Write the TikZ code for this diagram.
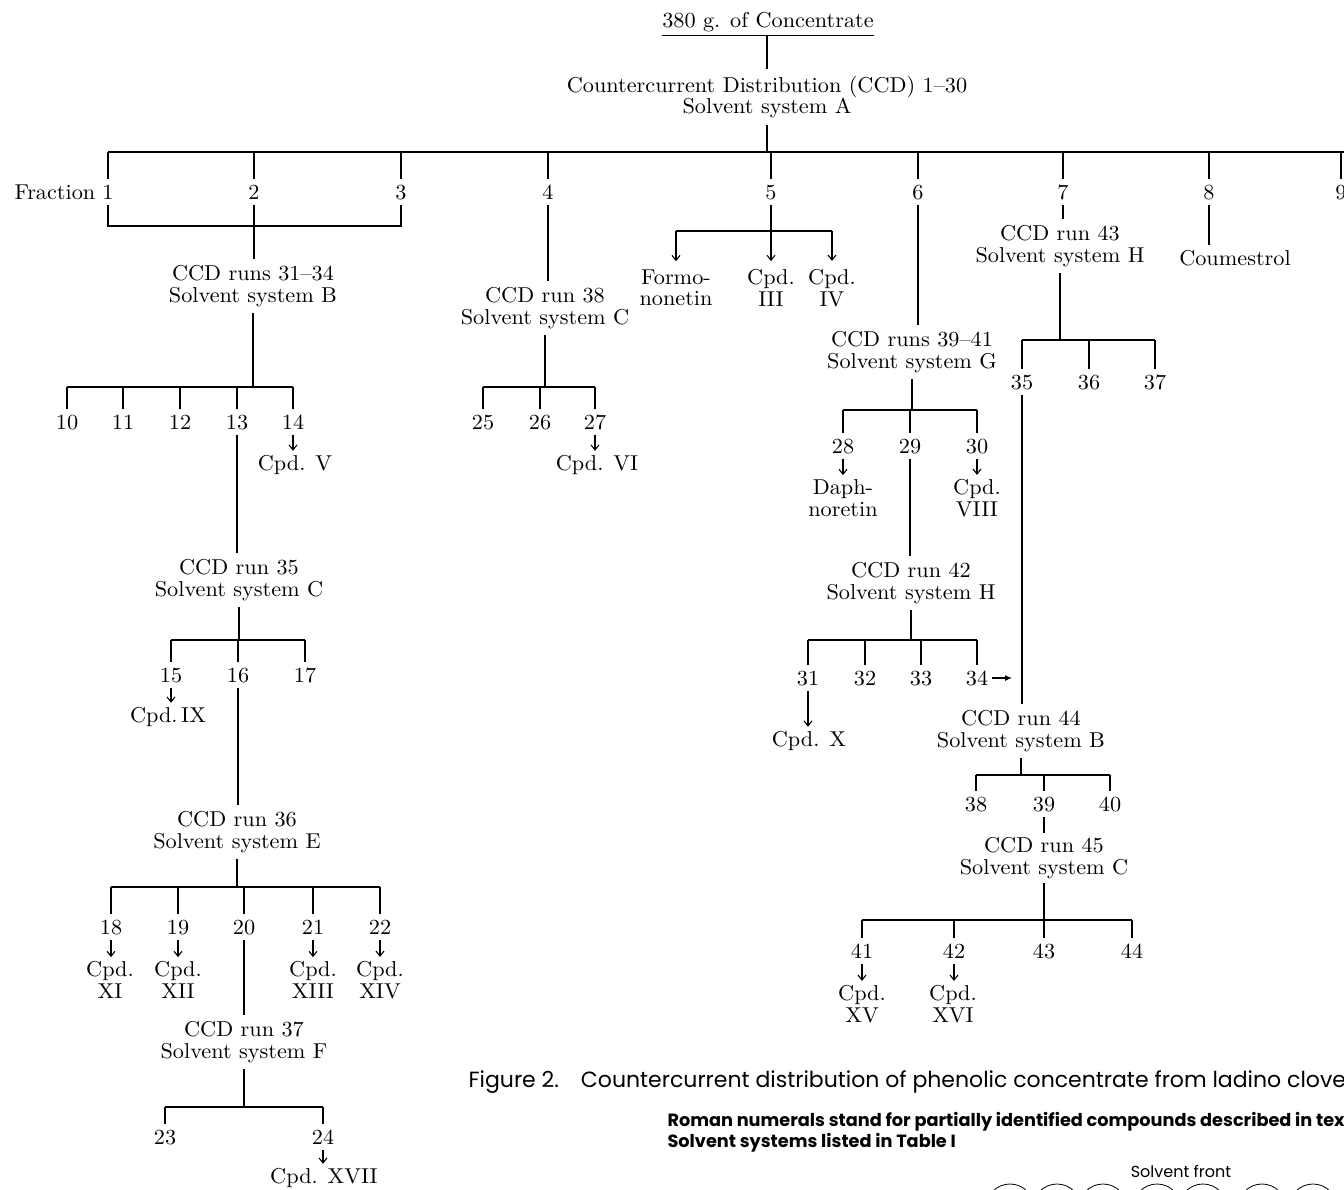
\documentclass[tikz,border=0pt]{standalone}
\usepackage{fontspec}
\setmainfont{lmroman10-regular.otf}[FakeStretch=1.035]
\newfontfamily\capfont{Poppins}
\usetikzlibrary{arrows.meta}

\tikzset{
    lbl/.style={inner xsep=0pt, inner ysep=5pt, align=center},
    num/.style={lbl, text height=14pt, text depth=0pt},
    cpd/.style={-{Straight Barb[length=5pt,width=8pt]}}
}

\begin{document}
\begin{tikzpicture}[x=1pt, y=-1pt, line width=1.1pt,
    font=\fontsize{21.5}{21.5}\selectfont]

\useasboundingbox (0,0) rectangle (1344,1189);
\clip (0,0) rectangle (1344,1189);

% Bar levels
\coordinate (barA) at (0,152);
\coordinate (barBox) at (0,226);
\coordinate (bar5) at (0,231);
\coordinate (bar2) at (0,387);
\coordinate (bar4) at (0,387);
\coordinate (bar7) at (0,340);
\coordinate (bar6) at (0,410);
\coordinate (bar13) at (0,640);
\coordinate (bar29) at (0,640);
\coordinate (bar35) at (0,775);
\coordinate (bar16) at (0,887);
\coordinate (bar39) at (0,920);
\coordinate (bar20) at (0,1107);

% Top
\node[lbl, inner ysep=3pt] (conc) at (768,22) {380 g. of Concentrate};
\draw (conc.south west) -- (conc.south east);
\node[lbl, inner ysep=6pt] (ccdA) at (767,97) {Countercurrent Distribution (CCD) 1--30\\Solvent system A};
\draw (conc.south -| ccdA.north) -- (ccdA.north);
\draw (ccdA.south) -- (ccdA.south |- barA);

% Fractions
\node[num] (f1) at (108,192) {1};
\node[num] (f2) at (254,192) {2};
\node[num] (f3) at (401,192) {3};
\node[num] (f4) at (548,192) {4};
\node[num] (f5) at (771,192) {5};
\node[num] (f6) at (918,192) {6};
\node[num] (f7) at (1063,192) {7};
\node[num] (f8) at (1209,192) {8};
\node[num] (f9) at (1341,192) {9};
\node[lbl, anchor=base east] (fraclbl) at ([xshift=-6pt]f1.base west) {Fraction};
\draw (f1.north |- barA) -- (1344,152);
\foreach \i in {1,...,9}
    \draw (f\i.north |- barA) -- (f\i.north);
\draw (f1.south) -- (f1.south |- barBox) -- (f3.south |- barBox) -- (f3.south);

% Fraction 2
\node[lbl, inner ysep=6pt] (ccd31) at (253,286) {CCD runs 31--34\\Solvent system B};
\draw (f2.south) -- (f2.south |- ccd31.north);
\draw (ccd31.south) -- (ccd31.south |- bar2);
\node[num] (n10) at (67,422) {10};
\node[num] (n11) at (123,422) {11};
\node[num] (n12) at (180,422) {12};
\node[num] (n13) at (237,422) {13};
\node[num] (n14) at (293,422) {14};
\draw (n10.north |- bar2) -- (n14.north |- bar2);
\foreach \i in {10,...,14}
    \draw (n\i.north |- bar2) -- (n\i.north);
\node[lbl, inner ysep=4pt] (cpdV) at (295,465) {Cpd. V};
\draw[cpd] (n14.south) -- (n14.south |- cpdV.north);

\node[lbl, inner ysep=6pt] (ccd35) at (239,580) {CCD run 35\\Solvent system C};
\draw (n13.south) -- (n13.south |- ccd35.north);
\draw (ccd35.south) -- (ccd35.south |- bar13);
\node[num] (n15) at (171,675) {15};
\node[num] (n16) at (238,675) {16};
\node[num] (n17) at (305,675) {17};
\draw (n15.north |- bar13) -- (n17.north |- bar13);
\foreach \i in {15,16,17}
    \draw (n\i.north |- bar13) -- (n\i.north);
\node[lbl, inner ysep=4pt] (cpdIX) at (168,717) {Cpd.\,IX};
\draw[cpd] (n15.south) -- (n15.south |- cpdIX.north);

\node[lbl, inner ysep=6pt] (ccd36) at (237,832) {CCD run 36\\Solvent system E};
\draw (n16.south) -- (n16.south |- ccd36.north);
\draw (ccd36.south) -- (ccd36.south |- bar16);
\node[num] (n18) at (111,927) {18};
\node[num] (n19) at (178,927) {19};
\node[num] (n20) at (244,927) {20};
\node[num] (n21) at (313,927) {21};
\node[num] (n22) at (380,927) {22};
\draw (n18.north |- bar16) -- (n22.north |- bar16);
\foreach \i in {18,...,22}
    \draw (n\i.north |- bar16) -- (n\i.north);
\node[lbl, inner ysep=4pt] (cpdXI) at (110,980) {Cpd.\\XI};
\node[lbl, inner ysep=4pt] (cpdXII) at (178,980) {Cpd.\\XII};
\node[lbl, inner ysep=4pt] (cpdXIII) at (313,980) {Cpd.\\XIII};
\node[lbl, inner ysep=4pt] (cpdXIV) at (380,980) {Cpd.\\XIV};
\draw[cpd] (n18.south) -- (n18.south |- cpdXI.north);
\draw[cpd] (n19.south) -- (n19.south |- cpdXII.north);
\draw[cpd] (n21.south) -- (n21.south |- cpdXIII.north);
\draw[cpd] (n22.south) -- (n22.south |- cpdXIV.north);

\node[lbl, inner ysep=6pt] (ccd37) at (244,1042) {CCD run 37\\Solvent system F};
\draw (n20.south) -- (n20.south |- ccd37.north);
\draw (ccd37.south) -- (ccd37.south |- bar20);
\node[num] (n23) at (165,1137) {23};
\node[num] (n24) at (323,1137) {24};
\draw (n23.north |- bar20) -- (n24.north |- bar20);
\foreach \i in {23,24}
    \draw (n\i.north |- bar20) -- (n\i.north);
\node[lbl, inner ysep=4pt] (cpdXVII) at (324,1178) {Cpd. XVII};
\draw[cpd] (n24.south) -- (n24.south |- cpdXVII.north);

% Fraction 4
\node[lbl, inner ysep=6pt] (ccd38) at (545,308) {CCD run 38\\Solvent system C};
\draw (f4.south) -- (f4.south |- ccd38.north);
\draw (ccd38.south) -- (ccd38.south |- bar4);
\node[num] (n25) at (483,422) {25};
\node[num] (n26) at (540,422) {26};
\node[num] (n27) at (595,422) {27};
\draw (n25.north |- bar4) -- (n27.north |- bar4);
\foreach \i in {25,26,27}
    \draw (n\i.north |- bar4) -- (n\i.north);
\node[lbl, inner ysep=4pt] (cpdVI) at (597,465) {Cpd. VI};
\draw[cpd] (n27.south) -- (n27.south |- cpdVI.north);

% Fraction 5
\node[lbl, inner ysep=8pt] (formo) at (676,288) {Formo-\\nonetin};
\node[lbl, inner ysep=8pt] (cpdIII) at (771,288) {Cpd.\\III};
\node[lbl, inner ysep=8pt] (cpdIV) at (832,288) {Cpd.\\IV};
\draw (f5.south) -- (f5.south |- bar5);
\draw (formo.north |- bar5) -- (cpdIV.north |- bar5);
\draw[cpd] (formo.north |- bar5) -- (formo.north);
\draw[cpd] (cpdIII.north |- bar5) -- (cpdIII.north);
\draw[cpd] (cpdIV.north |- bar5) -- (cpdIV.north);

% Fraction 6
\node[lbl, inner ysep=6pt] (ccd39) at (912,352) {CCD runs 39--41\\Solvent system G};
\draw (f6.south) -- (f6.south |- ccd39.north);
\draw (ccd39.south) -- (ccd39.south |- bar6);
\node[num] (n28) at (843,446) {28};
\node[num] (n29) at (910,446) {29};
\node[num] (n30) at (977,446) {30};
\draw (n28.north |- bar6) -- (n30.north |- bar6);
\foreach \i in {28,29,30}
    \draw (n\i.north |- bar6) -- (n\i.north);
\node[lbl, inner ysep=4pt] (daph) at (843,498) {Daph-\\noretin};
\node[lbl, inner ysep=4pt] (cpdVIII) at (977,498) {Cpd.\\VIII};
\draw[cpd] (n28.south) -- (n28.south |- daph.north);
\draw[cpd] (n30.south) -- (n30.south |- cpdVIII.north);

\node[lbl, inner ysep=6pt] (ccd42) at (911,583) {CCD run 42\\Solvent system H};
\draw (n29.south) -- (n29.south |- ccd42.north);
\draw (ccd42.south) -- (ccd42.south |- bar29);
\node[num] (n31) at (808,678) {31};
\node[num] (n32) at (865,678) {32};
\node[num] (n33) at (921,678) {33};
\node[num] (n34) at (977,678) {34};
\draw (n31.north |- bar29) -- (n34.north |- bar29);
\foreach \i in {31,...,34}
    \draw (n\i.north |- bar29) -- (n\i.north);
\node[lbl, inner ysep=4pt] (cpdX) at (809,741) {Cpd. X};
\draw[cpd] (n31.south) -- (n31.south |- cpdX.north);
\coordinate (n34tip) at (1012,678);
\draw[-{Latex[length=7pt,width=6pt]}] ([xshift=3pt]n34.east) -- (n34tip);

% Fraction 7
\node[lbl, inner ysep=6pt] (ccd43) at (1060,246) {CCD run 43\\Solvent system H};
\draw (f7.south) -- (f7.south |- ccd43.north);
\draw (ccd43.south) -- (ccd43.south |- bar7);
\node[num] (n35) at (1022,382) {35};
\node[num] (n36) at (1089,382) {36};
\node[num] (n37) at (1155,382) {37};
\draw (n35.north |- bar7) -- (n37.north |- bar7);
\foreach \i in {35,36,37}
    \draw (n\i.north |- bar7) -- (n\i.north);

\node[lbl, inner ysep=6pt] (ccd44) at (1021,731) {CCD run 44\\Solvent system B};
\draw (n35.south) -- (n35.south |- ccd44.north);
\draw (ccd44.south) -- (ccd44.south |- bar35);
\node[num] (n38) at (976,804) {38};
\node[num] (n39) at (1044,804) {39};
\node[num] (n40) at (1110,804) {40};
\draw (n38.north |- bar35) -- (n40.north |- bar35);
\foreach \i in {38,39,40}
    \draw (n\i.north |- bar35) -- (n\i.north);

\node[lbl, inner ysep=4pt] (ccd45) at (1044,858) {CCD run 45\\Solvent system C};
\draw (n39.south) -- (n39.south |- ccd45.north);
\draw (ccd45.south) -- (ccd45.south |- bar39);
\node[num] (n41) at (862,951) {41};
\node[num] (n42) at (954,951) {42};
\node[num] (n43) at (1044,951) {43};
\node[num] (n44) at (1132,951) {44};
\draw (n41.north |- bar39) -- (n44.north |- bar39);
\foreach \i in {41,...,44}
    \draw (n\i.north |- bar39) -- (n\i.north);
\node[lbl, inner ysep=4pt] (cpdXV) at (862,1004) {Cpd.\\XV};
\node[lbl, inner ysep=4pt] (cpdXVI) at (953,1004) {Cpd.\\XVI};
\draw[cpd] (n41.south) -- (n41.south |- cpdXV.north);
\draw[cpd] (n42.south) -- (n42.south |- cpdXVI.north);

% Fraction 8
\node[lbl] (coum) at (1235,258) {Coumestrol};
\draw (f8.south) -- (f8.south |- coum.north);

% Caption
\node[anchor=west, inner sep=0pt, font=\capfont\fontsize{22}{22}\selectfont] (figcap) at (468,1082)
    {Figure 2.\quad Countercurrent distribution of phenolic concentrate from ladino clove};
\node[anchor=west, inner sep=0pt, font=\capfont\bfseries\fontsize{17.7}{17.7}\selectfont] (note1) at (667,1122)
    {Roman numerals stand for partially identified compounds described in tex};
\node[anchor=west, inner sep=0pt, font=\capfont\bfseries\fontsize{17.7}{17.7}\selectfont] (note2) at (667,1143)
    {Solvent systems listed in Table I};

% Solvent front
\node[inner sep=0pt, font=\capfont\fontsize{16}{16}\selectfont] (front) at (1181,1171) {Solvent front};
\foreach \x in {1010,1057,1103,1157,1203,1262,1313}
    \draw[line width=0.8pt] (\x,1208) circle (24pt);

\end{tikzpicture}
\end{document}
